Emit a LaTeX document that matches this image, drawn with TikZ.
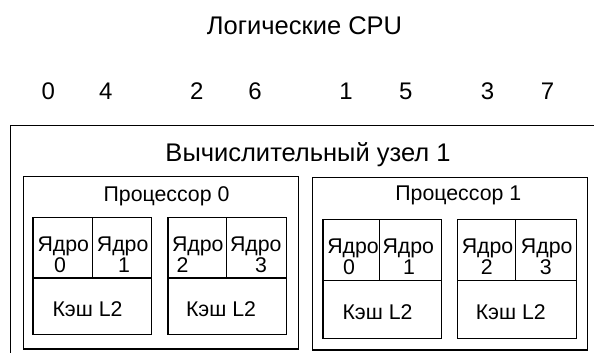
\documentclass[tikz,border=0pt]{standalone}
\usepackage{fontspec}
\setmainfont{Liberation Sans}
\begin{document}
\begin{tikzpicture}[x=1pt,y=-1pt,
  box/.style={draw, line width=1.3pt, inner sep=0pt, anchor=north west},
  big/.style={font=\fontsize{25.5}{30}\selectfont, anchor=base, inner sep=0pt},
  dig/.style={font=\fontsize{24}{28}\selectfont, anchor=base, inner sep=0pt},
  mid/.style={font=\fontsize{21.3}{25}\selectfont, anchor=base, inner sep=0pt}]
\useasboundingbox (0,0) rectangle (594,353);
\clip (0,0) rectangle (594,353);
% outer compute node (cut off at right and bottom)
\node[box, minimum width=600pt, minimum height=260pt] (cn) at (10,124.5) {};
% processors
\node[box, minimum width=275pt, minimum height=172.6pt] (p0) at (22.7,175.7) {};
\node[box, minimum width=275pt, minimum height=172.6pt] (p1) at (311.7,176.7) {};
% processor 0, block a
\node[box, minimum width=59.4pt, minimum height=60.6pt] (p0c0) at (32.3,216.7) {};
\node[box, minimum width=59.3pt, minimum height=60.6pt] (p0c1) at (91.7,216.7) {};
\node[box, minimum width=118.7pt, minimum height=56.3pt] (p0l2a) at (32.3,277.3) {};
% processor 0, block b
\node[box, minimum width=58.7pt, minimum height=60.6pt] (p0c2) at (167.3,216.7) {};
\node[box, minimum width=60pt, minimum height=60.6pt] (p0c3) at (226,216.7) {};
\node[box, minimum width=118.7pt, minimum height=56.3pt] (p0l2b) at (167.3,277.3) {};
% processor 1, block a
\node[box, minimum width=56.2pt, minimum height=61pt] (p1c0) at (322.3,219) {};
\node[box, minimum width=62.5pt, minimum height=61pt] (p1c1) at (378.5,219) {};
\node[box, minimum width=118.7pt, minimum height=57.7pt] (p1l2a) at (322.3,280) {};
% processor 1, block b
\node[box, minimum width=58.3pt, minimum height=60.5pt] (p1c2) at (456.7,219) {};
\node[box, minimum width=61pt, minimum height=60.5pt] (p1c3) at (515,219) {};
\node[box, minimum width=119.3pt, minimum height=58.2pt] (p1l2b) at (456.7,279.5) {};
% texts
\node[big] (tlog) at (304.5,34.3) {Логические CPU};
\node[dig] (d0) at (48.3,99.3) {0};
\node[dig] (d4) at (105.8,99.3) {4};
\node[dig] (d2) at (196.7,99.3) {2};
\node[dig] (d6) at (255,99.3) {6};
\node[dig] (d1) at (346,99.3) {1};
\node[dig] (d5) at (405.8,99.3) {5};
\node[dig] (d3) at (487.5,99.3) {3};
\node[dig] (d7) at (547.5,99.3) {7};
\node[big] (tcn) at (308,161) {Вычислительный узел 1};
\node[mid] (tp0) at (166.5,201.7) {Процессор 0};
\node[mid] (tp1) at (458.3,200.7) {Процессор 1};
% core labels
\node[mid] (y00) at (63.3,251.7) {Ядро};
\node[mid] (n00) at (60,272.3) {0};
\node[mid] (y01) at (122.7,251.7) {Ядро};
\node[mid] (n01) at (124,272.3) {1};
\node[mid] (y02) at (197.8,251.7) {Ядро};
\node[mid] (n02) at (182.5,272.3) {2};
\node[mid] (y03) at (255.8,251.7) {Ядро};
\node[mid] (n03) at (261,272.3) {3};
\node[mid] (y10) at (353,253.3) {Ядро};
\node[mid] (n10) at (349,274.3) {0};
\node[mid] (y11) at (408.3,253.3) {Ядро};
\node[mid] (n11) at (409,274.3) {1};
\node[mid] (y12) at (487.5,253.3) {Ядро};
\node[mid] (n12) at (486.7,274.3) {2};
\node[mid] (y13) at (546.7,253.3) {Ядро};
\node[mid] (n13) at (545.8,274.3) {3};
% cache labels
\node[mid] (k0a) at (87.5,316.3) {Кэш L2};
\node[mid] (k0b) at (221,316.3) {Кэш L2};
\node[mid] (k1a) at (377.5,319) {Кэш L2};
\node[mid] (k1b) at (510.8,319) {Кэш L2};
\end{tikzpicture}
\end{document}
